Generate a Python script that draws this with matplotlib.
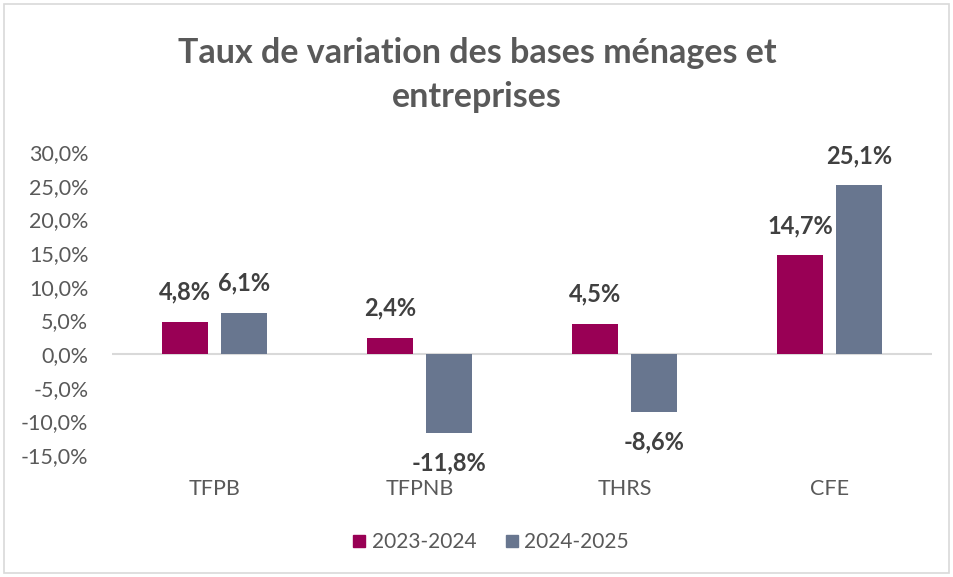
import matplotlib.pyplot as plt
from matplotlib.patches import Rectangle
from matplotlib.lines import Line2D
import numpy as np

categories = ["TFPB", "TFPNB", "THRS", "CFE"]
series_names = ["2023-2024", "2024-2025"]
values_2023_2024 = [4.8, 2.4, 4.5, 14.7]
values_2024_2025 = [6.1, -11.8, -8.6, 25.1]
colors = ["#990055", "#68768F"]
title = "Taux de variation des bases ménages et\nentreprises"

plt.rcParams['font.family'] = ['Lato', 'DejaVu Sans']

W, H = 954, 577
fig = plt.figure(figsize=(W / 100, H / 100), dpi=100)
fig.patch.set_facecolor("white")
# outer frame
fig.patches.append(Rectangle((4 / W, 4 / H), (W - 9) / W, (H - 8) / H,
                             transform=fig.transFigure, fill=False,
                             edgecolor="#d9d9d9", linewidth=1.2))

ax = fig.add_axes([112 / W, 1 - 455 / H, (932 - 112) / W, (455 - 152) / H])
x = np.arange(len(categories))
bw = 0.225
off = 0.143
for vals, dx, col, name in [(values_2023_2024, -off, colors[0], series_names[0]),
                            (values_2024_2025, off, colors[1], series_names[1])]:
    bars = ax.bar(x + dx, vals, width=bw, color=col, label=name, zorder=3)
    for b, v in zip(bars, vals):
        txt = f"{v:.1f}%".replace(".", ",")
        if v >= 0:
            ax.annotate(txt, (b.get_x() + b.get_width() / 2, v), xytext=(0, 13),
                        textcoords="offset points", ha="center", va="bottom",
                        fontsize=17, fontweight="bold", color="#404040")
        else:
            ax.annotate(txt, (b.get_x() + b.get_width() / 2, v), xytext=(0, -13),
                        textcoords="offset points", ha="center", va="top",
                        fontsize=17, fontweight="bold", color="#404040")

ax.set_xlim(-0.5, len(categories) - 0.5)
ax.set_ylim(-15, 30)
ticks = np.arange(-15, 30.1, 5)
ax.set_yticks(ticks)
ax.set_yticklabels([f"{t:.1f}%".replace(".", ",") for t in ticks])
ax.set_xticks(x)
ax.set_xticklabels(categories)
ax.axhline(0, color="#d9d9d9", linewidth=1.5, zorder=2)
for s in ax.spines.values():
    s.set_visible(False)
ax.tick_params(axis="both", length=0, labelsize=15.5, labelcolor="#595959")
ax.tick_params(axis="y", pad=17)
ax.tick_params(axis="x", pad=17.5)

fig.text(0.5, 1 - 75 / H, title, ha="center", va="center", fontsize=24.5,
         fontweight="bold", color="#595959", linespacing=1.45)

handles = [Line2D([], [], marker="s", linestyle="none", markersize=8,
                  markerfacecolor=c, markeredgecolor=c) for c in colors]
fig.legend(handles, series_names, loc="center", bbox_to_anchor=(489 / W, 1 - 542 / H),
           ncol=2, frameon=False, fontsize=15, labelcolor="#595959",
           handletextpad=0.1, columnspacing=1.2, handlelength=1.0)

fig.savefig("out.png", dpi=100)
